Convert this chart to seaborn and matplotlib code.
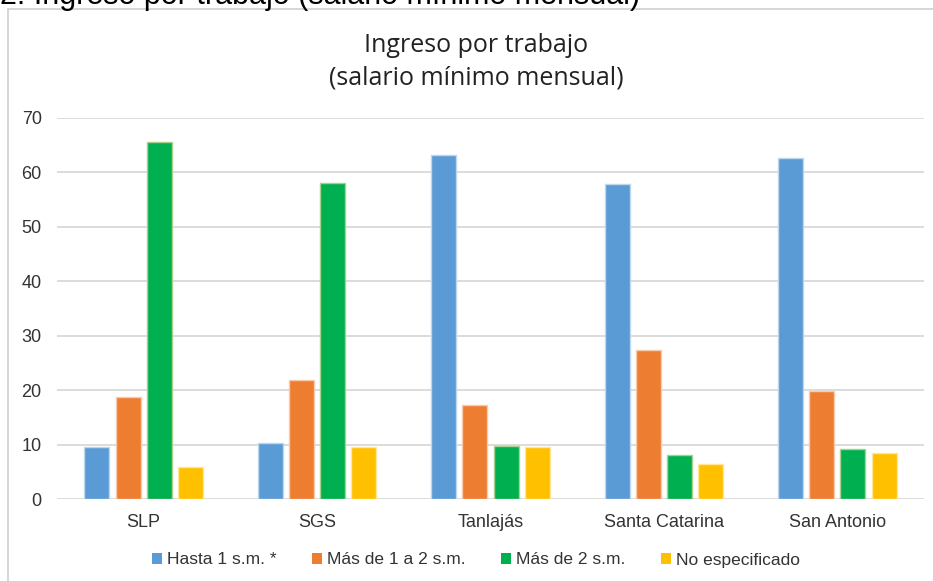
import matplotlib
matplotlib.use("Agg")
import matplotlib.pyplot as plt
import seaborn as sns
import pandas as pd
from matplotlib.patches import Rectangle
from matplotlib.lines import Line2D

categories = ["SLP", "SGS", "Tanlajás", "Santa Catarina", "San Antonio"]
series_names = ["Hasta 1 s.m. *", "Más de 1 a 2 s.m.", "Más de 2 s.m.", "No especificado"]
hasta_1 = [9.5, 10.3, 63.2, 57.8, 62.6]
de_1_a_2 = [18.7, 21.8, 17.3, 27.4, 19.9]
mas_de_2 = [65.6, 58.1, 9.7, 8.0, 9.2]
no_especificado = [5.8, 9.5, 9.5, 6.4, 8.4]
y_ticks = [0, 10, 20, 30, 40, 50, 60, 70]

colors = ["#5B9BD5", "#ED7D31", "#00B050", "#FFC000"]
edge_colors = ["#BDD7EE", "#F8CBAD", "#A9D18E", "#FFE699"]

rows = []
for name, vals in zip(series_names, [hasta_1, de_1_a_2, mas_de_2, no_especificado]):
    for c, v in zip(categories, vals):
        rows.append({"Municipio": c, "Serie": name, "Valor": v})
df = pd.DataFrame(rows)

sns.set_theme(style="white")
plt.rcParams["font.family"] = ["Liberation Sans", "DejaVu Sans"]

fig = plt.figure(figsize=(9.33, 5.81), dpi=100)
ax = fig.add_axes([57/933, 1 - 499/581, (924 - 57)/933, (499 - 118)/581])

sns.barplot(data=df, x="Municipio", y="Valor", hue="Serie", order=categories,
            hue_order=series_names, palette=colors, width=0.72, gap=0.2,
            ax=ax, legend=False, saturation=1)

# bar edges
n = len(categories)
for i, patch in enumerate(ax.patches):
    s = i // n
    if s < len(edge_colors):
        patch.set_edgecolor(edge_colors[s])
        patch.set_linewidth(1.0)

ax.set_ylim(0, 70)
ax.set_yticks(y_ticks)
ax.set_yticklabels([str(t) for t in y_ticks], fontsize=13, color="#333333")
ax.tick_params(axis="x", labelsize=13, colors="#333333", length=0, pad=11)
ax.tick_params(axis="y", length=0, pad=11)
ax.set_xlabel("")
ax.set_ylabel("")
ax.yaxis.grid(True, color="#D9D9D9", linewidth=1.3)
ax.set_axisbelow(True)
for sp in ax.spines.values():
    sp.set_visible(False)
ax.set_xlim(-0.5, n - 0.5)

# Title
fig.text(476/933, 1 - 45/581, "Ingreso por trabajo", ha="center", va="center",
         fontsize=18, color="#222222", family=["Open Sans", "DejaVu Sans"])
fig.text(476/933, 1 - 78/581, "(salario mínimo mensual)", ha="center", va="center",
         fontsize=18, color="#222222", family=["Open Sans", "DejaVu Sans"])

# Heading above the chart, cut off at the top edge as in the reference
fig.text(0.0, 1 - 4/581, "2. Ingreso por trabajo (salario mínimo mensual)", ha="left",
         va="baseline", fontsize=22, color="#000000")

# Chart frame (top and left edges)
fig.add_artist(Line2D([8/933, 8/933], [0, 1 - 9/581], transform=fig.transFigure,
                      color="#D0D0D0", linewidth=1.2))
fig.add_artist(Line2D([8/933, 1], [1 - 9/581, 1 - 9/581], transform=fig.transFigure,
                      color="#D0D0D0", linewidth=1.2))

# Legend
handles = [Rectangle((0, 0), 1, 1, facecolor=c, edgecolor="none") for c in colors]
fig.legend(handles, series_names, loc="center", bbox_to_anchor=(476/933, 1 - 560/581),
           ncol=4, frameon=False, fontsize=12.5, handlelength=0.6, handleheight=0.6,
           handletextpad=0.3, columnspacing=2.0, labelcolor="#333333")

fig.savefig("out.png", dpi=100)
